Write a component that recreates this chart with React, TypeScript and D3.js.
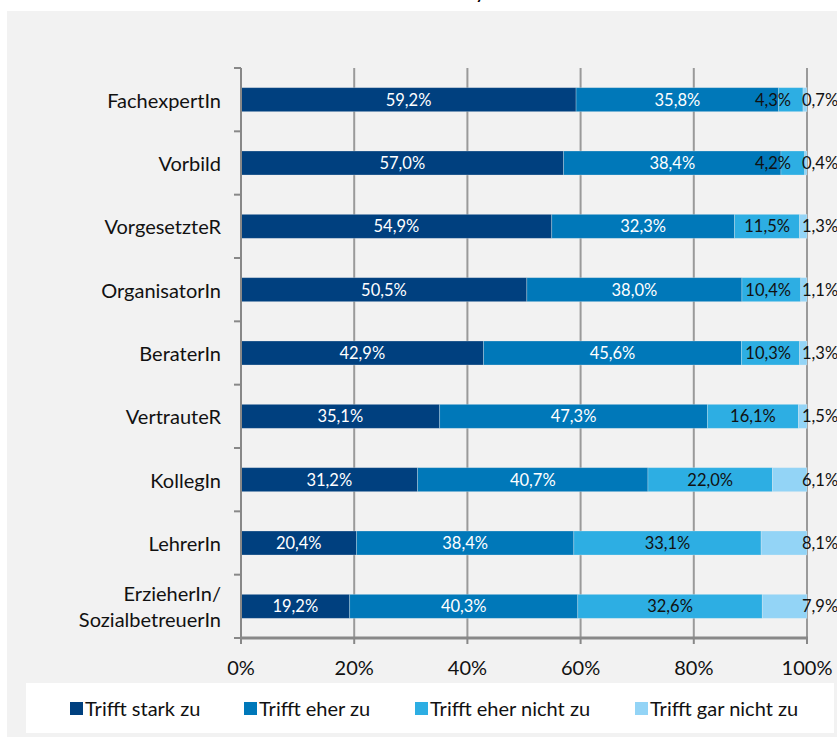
import React from "react";
import * as d3 from "d3";

const categories = [
  "FachexpertIn",
  "Vorbild",
  "VorgesetzteR",
  "OrganisatorIn",
  "BeraterIn",
  "VertrauteR",
  "KollegIn",
  "LehrerIn",
  "ErzieherIn/\nSozialbetreuerIn",
];
const seriesNames = ["Trifft stark zu", "Trifft eher zu", "Trifft eher nicht zu", "Trifft gar nicht zu"];
const starkZu = [59.2, 57.0, 54.9, 50.5, 42.9, 35.1, 31.2, 20.4, 19.2];
const eherZu = [35.8, 38.4, 32.3, 38.0, 45.6, 47.3, 40.7, 38.4, 40.3];
const eherNichtZu = [4.3, 4.2, 11.5, 10.4, 10.3, 16.1, 22.0, 33.1, 32.6];
const garNichtZu = [0.7, 0.4, 1.3, 1.1, 1.3, 1.5, 6.1, 8.1, 7.9];
const xTicks = [0, 20, 40, 60, 80, 100];

const colors = ["#00407f", "#0078b9", "#2daee3", "#93d4f6"];
const labelColors = ["#ffffff", "#ffffff", "#111111", "#111111"];
const FONT = "Lato, 'Open Sans', sans-serif";

const W = 837;
const H = 738;

let measureCtx: CanvasRenderingContext2D | null = null;
function textWidth(t: string, size: number) {
  if (!measureCtx) measureCtx = document.createElement("canvas").getContext("2d");
  if (!measureCtx) return t.length * size * 0.5;
  measureCtx.font = `${size}px ${FONT}`;
  return measureCtx.measureText(t).width;
}

const fmt = (v: number) => v.toFixed(1).replace(".", ",") + "%";

export default function App() {
  const rows = categories.map((c, i) => ({
    cat: c,
    s0: starkZu[i],
    s1: eherZu[i],
    s2: eherNichtZu[i],
    s3: garNichtZu[i],
  }));
  const keys = ["s0", "s1", "s2", "s3"];
  const stack = d3.stack<any>().keys(keys).offset(d3.stackOffsetExpand);
  const series = stack(rows);

  const x = d3.scaleLinear().domain([0, 1]).range([241, 807]);
  const y = d3
    .scaleBand<string>()
    .domain(categories)
    .range([68, 638])
    .paddingInner(0.621)
    .paddingOuter(0.3105);
  const step = y.step();
  const bw = y.bandwidth();

  const axisFont = 20;
  const dataFont = 16.5;
  const labelLimit = x(1) - 16;

  return (
    <div style={{ position: "absolute", left: 0, top: 0 }}>
      <svg width={W} height={H} style={{ display: "block", fontFamily: FONT }}>
        <rect x={0} y={0} width={W} height={H} fill="#ffffff" />
        <rect x={7} y={11} width={W - 7} height={726} fill="#f2f2f2" />
        <text x={480} y={-1.5} fontSize={16} fontWeight="bold" textAnchor="middle" fill="#000">
          y
        </text>

        {/* gridlines */}
        {xTicks.slice(1).map((t) => (
          <line key={t} x1={x(t / 100)} x2={x(t / 100)} y1={68} y2={638} stroke="#9a9a9a" strokeWidth={2} />
        ))}

        {/* bars */}
        {series.map((s, si) => (
          <g key={si} fill={colors[si]}>
            {s.map((d, i) => (
              <rect
                key={i}
                x={x(d[0])}
                y={y(categories[i])!}
                width={Math.max(0, x(d[1]) - x(d[0]))}
                height={bw}
                stroke="#f2f2f2"
                strokeOpacity={0.35}
                strokeWidth={0.8}
              />
            ))}
          </g>
        ))}

        {/* axes */}
        <line x1={241} x2={241} y1={68} y2={638} stroke="#888" strokeWidth={2} />
        {d3.range(categories.length + 1).map((i) => (
          <line key={i} x1={234} x2={241} y1={68 + i * step} y2={68 + i * step} stroke="#888" strokeWidth={2} />
        ))}
        <line x1={240} x2={808} y1={638} y2={638} stroke="#888" strokeWidth={3} />
        {xTicks.map((t) => (
          <line key={t} x1={x(t / 100)} x2={x(t / 100)} y1={638} y2={644} stroke="#888" strokeWidth={2} />
        ))}
        {xTicks.map((t) => (
          <text key={t} x={x(t / 100)} y={667} fontSize={axisFont} textAnchor="middle" dominantBaseline="central" fill="#111">
            {t}%
          </text>
        ))}

        {/* category labels */}
        {categories.map((c) => {
          const lines = c.split("\n");
          const cy = y(c)! + bw / 2;
          return (
            <text key={c} x={221} fontSize={axisFont} textAnchor="end" fill="#111">
              {lines.map((l, li) => (
                <tspan key={li} x={221} y={cy + (li - (lines.length - 1) / 2) * 26} dominantBaseline="central">
                  {l}
                </tspan>
              ))}
            </text>
          );
        })}

        {/* data labels */}
        {series.map((s, si) =>
          s.map((d, i) => {
            const v = [starkZu, eherZu, eherNichtZu, garNichtZu][si][i];
            const t = fmt(v);
            const cy = y(categories[i])! + bw / 2;
            let tx = (x(d[0]) + x(d[1])) / 2;
            let anchor: "middle" | "start" | "end" = "middle";
            if (si === 3) {
              tx = x(1) - 5;
              anchor = "start";
            } else if (si === 2) {
              const w = textWidth(t, dataFont);
              if (tx + w / 2 > labelLimit) {
                tx = labelLimit;
                anchor = "end";
              }
            }
            return (
              <text
                key={`${si}-${i}`}
                x={tx}
                y={cy}
                fontSize={dataFont}
                textAnchor={anchor}
                dominantBaseline="central"
                fill={labelColors[si]}
              >
                {t}
              </text>
            );
          })
        )}

        {/* legend */}
        <rect x={26} y={683} width={808} height={50} fill="#ffffff" />
        {seriesNames.map((n, i) => {
          const lx = [70, 244, 415, 635][i];
          return (
            <g key={n}>
              <rect x={lx} y={702} width={13} height={13} fill={colors[i]} />
              <text x={lx + 15} y={708} fontSize={axisFont} dominantBaseline="central" fill="#111">
                {n}
              </text>
            </g>
          );
        })}
      </svg>
    </div>
  );
}
